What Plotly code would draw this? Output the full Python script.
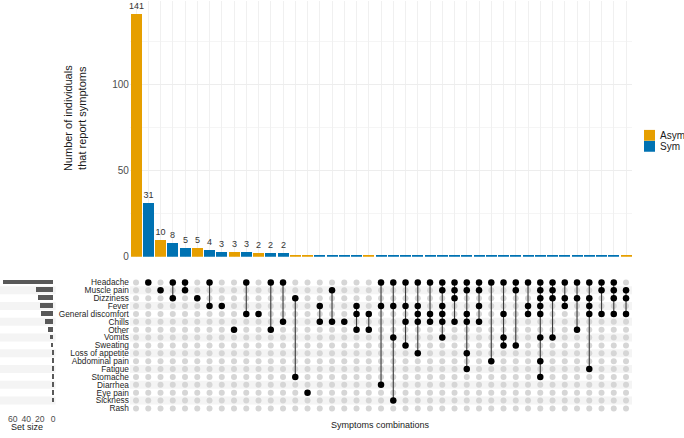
import plotly.graph_objects as go

# ---------------- data ----------------
symptoms = ["Headache", "Muscle pain", "Dizziness", "Fever", "General discomfort",
            "Chills", "Other", "Vomits", "Sweating", "Loss of appetite",
            "Abdominal pain", "Fatigue", "Stomache", "Diarrhea", "Eye pain",
            "Sickness", "Rash"]

intersections = [
    [],
    ["Headache"],
    ["Muscle pain"],
    ["Headache", "Dizziness"],
    ["Headache", "Muscle pain"],
    ["Dizziness"],
    ["Headache", "Fever"],
    ["Fever"],
    ["Other"],
    ["Headache", "General discomfort"],
    ["General discomfort"],
    ["Headache", "Other"],
    ["Headache", "Chills"],
    ["Dizziness", "Stomache"],
    ["Eye pain"],
    ["Fever", "Chills"],
    ["Muscle pain", "Chills"],
    ["Chills"],
    ["Fever", "General discomfort", "Other"],
    ["General discomfort", "Other"],
    ["Headache", "Fever", "Diarrhea"],
    ["Headache", "Fever", "Vomits", "Sickness"],
    ["Headache", "Fever", "Chills", "Sweating"],
    ["Headache", "Fever", "General discomfort", "Chills", "Loss of appetite"],
    ["Headache", "General discomfort", "Chills"],
    ["Headache", "Muscle pain", "Fever", "General discomfort", "Chills", "Vomits"],
    ["Headache", "Muscle pain", "Dizziness", "Chills"],
    ["Headache", "Muscle pain", "General discomfort", "Chills", "Loss of appetite", "Fatigue"],
    ["Headache", "Muscle pain", "Fever", "Chills"],
    ["Headache", "Abdominal pain"],
    ["Headache", "General discomfort", "Vomits", "Sweating"],
    ["Headache", "Muscle pain", "Sweating"],
    ["Headache", "Fever", "General discomfort"],
    ["Headache", "Muscle pain", "Dizziness", "Fever", "General discomfort", "Vomits",
     "Abdominal pain", "Stomache"],
    ["Headache", "Muscle pain", "Dizziness", "Vomits"],
    ["Headache", "Dizziness", "Fever"],
    ["Headache", "Dizziness", "Other"],
    ["Headache", "Dizziness", "Fever", "General discomfort", "Fatigue"],
    ["Headache", "Muscle pain", "General discomfort"],
    ["Headache", "Muscle pain", "Dizziness", "General discomfort"],
    ["Muscle pain", "Dizziness", "General discomfort"],
]

counts = [141, 31, 10, 8, 5, 5, 4, 3, 3, 3, 2, 2, 2,
          1, 1, 1, 1, 1, 1, 1, 1, 1, 1, 1, 1, 1, 1, 1, 1, 1,
          1, 1, 1, 1, 1, 1, 1, 1, 1, 1, 1]

groups = ["Asym", "Sym", "Asym", "Sym", "Sym", "Asym", "Sym", "Sym", "Asym", "Sym",
          "Asym", "Sym", "Sym", "Asym", "Asym", "Sym", "Sym", "Sym", "Sym", "Asym",
          "Sym", "Sym", "Sym", "Sym", "Sym", "Sym", "Sym", "Sym", "Sym", "Sym",
          "Sym", "Sym", "Sym", "Sym", "Sym", "Sym", "Sym", "Sym", "Sym", "Sym",
          "Asym"]

group_names = ["Asym", "Sym"]
group_colors = {"Asym": "#E69F00", "Sym": "#0072B2"}

set_size_ticks = [0, 20, 40, 60]
count_ticks = [0, 50, 100]

# ---------------- derived ----------------
W, H = 684, 438
FONT = "Liberation Sans, Arial, sans-serif"


def fx(p):
    return p / W


def fy(p):
    return 1 - p / H


ncol = len(counts)
cols = list(range(1, ncol + 1))
nrow = len(symptoms)
row_of = {s: i for i, s in enumerate(symptoms)}
set_sizes = [sum(c for inter, c in zip(intersections, counts) if s in inter)
             for s in symptoms]

fig = go.Figure()

# intersection bars
for g in group_names:
    xs = [c for c, gg in zip(cols, groups) if gg == g]
    ys = [v for v, gg in zip(counts, groups) if gg == g]
    fig.add_trace(go.Bar(
        x=xs, y=ys, name=g, marker=dict(color=group_colors[g], line=dict(width=0)),
        width=0.88, text=[str(v) if v > 1 else "" for v in ys],
        textposition="outside", cliponaxis=False, constraintext="none",
        textfont=dict(size=9, color="#333333", family=FONT),
        xaxis="x", yaxis="y", showlegend=False))

# matrix: background dots
fig.add_trace(go.Scatter(
    x=[c for c in cols for r in range(nrow)],
    y=[r for c in cols for r in range(nrow)],
    mode="markers", marker=dict(size=6, color="#D6D6D6"),
    xaxis="x2", yaxis="y2", showlegend=False, hoverinfo="skip"))

# matrix: connecting lines
lx, ly = [], []
for c, inter in zip(cols, intersections):
    rows = [row_of[s] for s in inter]
    if len(rows) >= 2:
        lx += [c, c, None]
        ly += [min(rows), max(rows), None]
fig.add_trace(go.Scatter(x=lx, y=ly, mode="lines",
                         line=dict(color="#3A3A3A", width=1.1),
                         xaxis="x2", yaxis="y2", showlegend=False, hoverinfo="skip"))

# matrix: active dots
ax, ay = [], []
for c, inter in zip(cols, intersections):
    for s in inter:
        ax.append(c)
        ay.append(row_of[s])
fig.add_trace(go.Scatter(x=ax, y=ay, mode="markers",
                         marker=dict(size=6.5, color="#000000"),
                         xaxis="x2", yaxis="y2", showlegend=False))

# set size bars
fig.add_trace(go.Bar(x=set_sizes, y=list(range(nrow)), orientation="h",
                     marker=dict(color="#595959", line=dict(width=0)), width=0.6,
                     xaxis="x3", yaxis="y3", showlegend=False))

# row stripes
shapes = []
for r in range(1, nrow, 2):
    shapes.append(dict(type="rect", xref="x2", yref="y2", x0=0.5, x1=ncol + 0.5,
                       y0=r - 0.5, y1=r + 0.5, fillcolor="#F4F4F4",
                       line=dict(width=0), layer="below"))
    shapes.append(dict(type="rect", xref="x3", yref="y3", x0=78.75, x1=-3.75,
                       y0=r - 0.5, y1=r + 0.5, fillcolor="#F4F4F4",
                       line=dict(width=0), layer="below"))

# legend (manual)
annotations = []
leg_top = 131
for i, g in enumerate(group_names):
    y0 = leg_top + i * 11.2
    shapes.append(dict(type="rect", xref="paper", yref="paper",
                       x0=fx(644), x1=fx(655), y0=fy(y0 + 11), y1=fy(y0),
                       fillcolor=group_colors[g], line=dict(width=0)))
    annotations.append(dict(text=g, x=fx(657.5), y=fy(y0 + 5.5), xref="paper", yref="paper",
                            xanchor="left", yanchor="middle", showarrow=False,
                            font=dict(size=10, color="#1A1A1A", family=FONT)))

annotations += [
    dict(text="Number of individuals<br>that report symptoms", x=fx(75), y=fy(119),
         xref="paper", yref="paper", textangle=-90, showarrow=False,
         xanchor="center", yanchor="middle",
         font=dict(size=11, color="#1A1A1A", family=FONT)),
    dict(text="Symptoms combinations", x=fx(381), y=fy(431), xref="paper", yref="paper",
         showarrow=False, xanchor="center", yanchor="middle",
         font=dict(size=9, color="#1A1A1A", family=FONT)),
    dict(text="Set size", x=fx(27), y=fy(433), xref="paper", yref="paper",
         showarrow=False, xanchor="center", yanchor="middle",
         font=dict(size=9, color="#1A1A1A", family=FONT)),
]

x_dom = [fx(129.9), fx(129.9 + ncol * 12.25)]
mat_dom = [fy(418), fy(282)]

fig.update_layout(
    width=W, height=H, margin=dict(l=0, r=0, t=0, b=0),
    paper_bgcolor="white", plot_bgcolor="white",
    font=dict(family=FONT, color="#333333"),
    bargap=0, barmode="overlay",
    shapes=shapes, annotations=annotations, showlegend=False,
    xaxis=dict(domain=x_dom, range=[0.5, ncol + 0.5], tickvals=cols,
               showticklabels=False, showgrid=True, gridcolor="#F0F0F0", gridwidth=1,
               zeroline=False, anchor="y", fixedrange=True),
    yaxis=dict(domain=[fy(260), 1], range=[0, 148.3], tickvals=count_ticks,
               showgrid=True, gridcolor="#EDEDED", gridwidth=1, zeroline=False,
               minor=dict(tickvals=[25, 75, 125], showgrid=True, gridcolor="#F5F5F5"),
               tickfont=dict(size=10, color="#4D4D4D"), ticks="", anchor="x"),
    xaxis2=dict(domain=x_dom, range=[0.5, ncol + 0.5], showticklabels=False,
                showgrid=False, zeroline=False, anchor="y2"),
    yaxis2=dict(domain=mat_dom, range=[nrow - 0.5, -0.5], tickvals=list(range(nrow)),
                ticktext=symptoms, tickfont=dict(size=8.3, color="#262626"),
                showgrid=False, zeroline=False, ticks="", anchor="x2"),
    xaxis3=dict(domain=[0, fx(55.8)], range=[78.75, -3.75], tickvals=set_size_ticks,
                tickfont=dict(size=8.6, color="#4D4D4D"), showgrid=False,
                zeroline=False, ticks="", anchor="y3"),
    yaxis3=dict(domain=mat_dom, range=[nrow - 0.5, -0.5], showticklabels=False,
                showgrid=False, zeroline=False, anchor="x3"),
)

fig.write_html("out.html", config={"displayModeBar": False},
               post_script="document.body.style.margin='0';document.body.style.overflow='hidden';")
